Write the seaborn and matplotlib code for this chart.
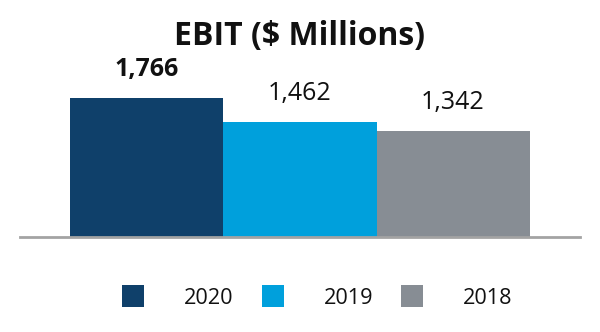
import matplotlib
matplotlib.use("Agg")
import matplotlib.pyplot as plt
from matplotlib.patches import Patch
import seaborn as sns
import pandas as pd

# EBIT by fiscal year
years = ["2020", "2019", "2018"]
ebit = [1766, 1462, 1342]
value_labels = ["1,766", "1,462", "1,342"]
colors = ["#0f406a", "#00a0dc", "#878d94"]

df = pd.DataFrame({"year": years, "ebit": ebit})

sns.set_theme(style="white")
plt.rcParams["font.family"] = ["Open Sans", "DejaVu Sans"]

fig = plt.figure(figsize=(6.0, 3.32), dpi=100)
ax = fig.add_axes([20 / 600, 1 - 237 / 332, 560 / 600, 177 / 332])

sns.barplot(data=df, x="year", y="ebit", hue="year", order=years,
            hue_order=years, palette=colors, width=1.0, dodge=False,
            legend=False, saturation=1, ax=ax, linewidth=0)

ax.set_xlim(-0.83, 2.83)
ax.set_ylim(0, 177 / 139 * 1766)
ax.set_xlabel("")
ax.set_ylabel("")
ax.set_xticks([])
ax.set_yticks([])
for side in ["top", "left", "right"]:
    ax.spines[side].set_visible(False)
ax.spines["bottom"].set_color("#a3a3a3")
ax.spines["bottom"].set_linewidth(2)

# value labels above each bar; the latest year is emphasised
weights = ["bold", "normal", "normal"]
for i, (v, lab) in enumerate(zip(ebit, value_labels)):
    ax.annotate(lab, (i, v), xytext=(0, 20.5), textcoords="offset points",
                ha="center", va="center", fontsize=18, fontweight=weights[i],
                color="#111111")

fig.text(0.5, 1 - 36 / 332, "EBIT ($ Millions)", ha="center", va="center",
         fontsize=23, fontweight="bold", color="#111111")

handles = [Patch(facecolor=c, edgecolor="none", label=y) for y, c in zip(years, colors)]
fig.legend(handles=handles, loc="center", bbox_to_anchor=(317.5 / 600, 1 - 297 / 332),
           ncol=3, frameon=False, fontsize=15.6, handlelength=1.0, handleheight=1.15,
           handletextpad=1.85, columnspacing=1.3, labelcolor="#111111")

fig.savefig("out.png", dpi=100)
